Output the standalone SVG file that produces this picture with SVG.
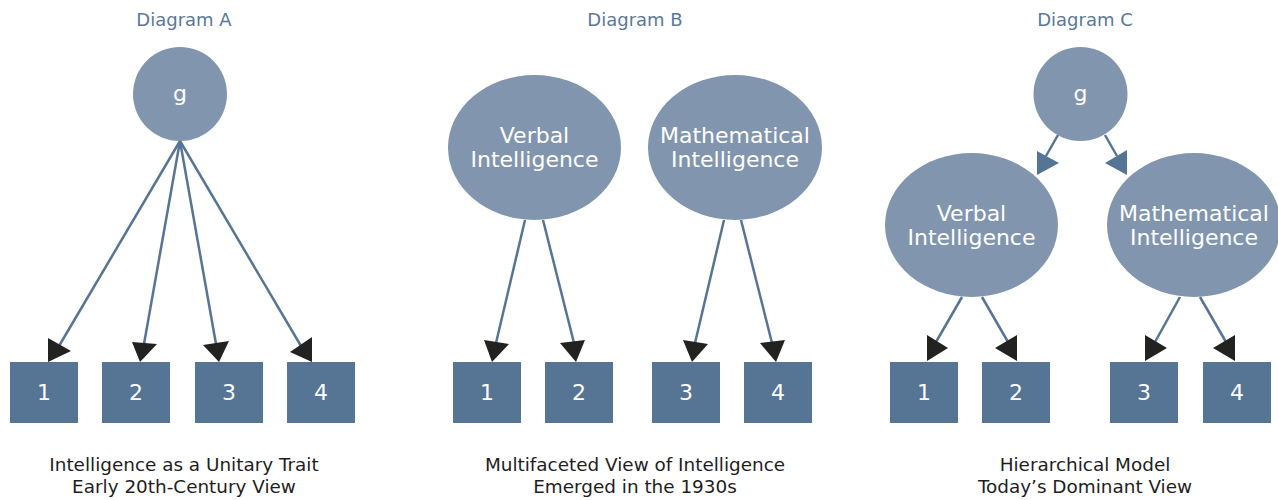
<svg xmlns="http://www.w3.org/2000/svg" width="1278" height="500" viewBox="0 0 1278 500">
<style>
.title{font-family:"DejaVu Sans",sans-serif;font-size:18px;fill:#5a7898;text-anchor:middle}
.cap{font-family:"DejaVu Sans",sans-serif;font-size:18.4px;fill:#1e1e1e;text-anchor:middle}
.nl{font-family:"DejaVu Sans",sans-serif;font-size:22px;fill:#ffffff;text-anchor:middle}
.oval{fill:#8196ae}
.box{fill:#567595}
.ln{stroke:#567595;stroke-width:2.5;fill:none}
.ah{fill:#222220}
.ahb{fill:#567595}
</style>
<rect width="1278" height="500" fill="#ffffff"/>
<text class="title" x="184" y="26">Diagram A</text>
<text class="title" x="635" y="26">Diagram B</text>
<text class="title" x="1085" y="26">Diagram C</text>

<g id="connectors">
  <line class="ln" x1="180" y1="141" x2="59" y2="346"/>
  <line class="ln" x1="180" y1="141" x2="144" y2="344"/>
  <line class="ln" x1="180" y1="141" x2="216" y2="344"/>
  <line class="ln" x1="180" y1="141" x2="301" y2="346"/>
  <polygon class="ah" points="48,338 48,362 71,351"/>
  <polygon class="ah" points="132,342 157,344 140,362"/>
  <polygon class="ah" points="203,345 229,341 219,362"/>
  <polygon class="ah" points="312,337 312,362 290,352"/>

  <line class="ln" x1="525" y1="220" x2="496" y2="343"/>
  <line class="ln" x1="543" y1="220" x2="574" y2="343"/>
  <line class="ln" x1="724" y1="220" x2="695" y2="343"/>
  <line class="ln" x1="741" y1="220" x2="772" y2="343"/>
  <polygon class="ah" points="484,340 509,344 492,362"/>
  <polygon class="ah" points="560,343 585,340 576,362"/>
  <polygon class="ah" points="683,340 708,344 692,362"/>
  <polygon class="ah" points="760,343 785,340 776,362"/>

  <line class="ln" x1="1058" y1="135" x2="1046" y2="156"/>
  <line class="ln" x1="1105" y1="135" x2="1117" y2="156"/>
  <polygon class="ahb" points="1037,151 1059,163 1037,175"/>
  <polygon class="ahb" points="1127,150 1127,175 1105,163"/>

  <line class="ln" x1="962" y1="297" x2="936" y2="342"/>
  <line class="ln" x1="982" y1="297" x2="1008" y2="342"/>
  <line class="ln" x1="1180" y1="297" x2="1155" y2="342"/>
  <line class="ln" x1="1200" y1="297" x2="1226" y2="342"/>
  <polygon class="ah" points="927,335 948,348 927,361"/>
  <polygon class="ah" points="1017,335 1017,361 995,348"/>
  <polygon class="ah" points="1145,335 1167,348 1145,361"/>
  <polygon class="ah" points="1235,335 1235,361 1213,348"/>
</g>

<g id="A-g"><circle class="oval" cx="180" cy="94" r="47"/><text class="nl" x="180" y="101">g</text></g>
<g id="A-1"><rect class="box" x="10" y="362" width="68" height="61"/><text class="nl" x="44" y="400">1</text></g>
<g id="A-2"><rect class="box" x="102" y="362" width="68" height="61"/><text class="nl" x="136" y="400">2</text></g>
<g id="A-3"><rect class="box" x="195" y="362" width="68" height="61"/><text class="nl" x="229" y="400">3</text></g>
<g id="A-4"><rect class="box" x="287" y="362" width="68" height="61"/><text class="nl" x="321" y="400">4</text></g>

<g id="B-verbal"><ellipse class="oval" cx="534.5" cy="147.5" rx="86.5" ry="72.5"/><text class="nl" x="534.5" y="143">Verbal</text><text class="nl" x="534.5" y="167">Intelligence</text></g>
<g id="B-math"><ellipse class="oval" cx="735" cy="147.5" rx="87" ry="72.5"/><text class="nl" x="735" y="143">Mathematical</text><text class="nl" x="735" y="167">Intelligence</text></g>
<g id="B-1"><rect class="box" x="453" y="362" width="68" height="61"/><text class="nl" x="487" y="400">1</text></g>
<g id="B-2"><rect class="box" x="545" y="362" width="68" height="61"/><text class="nl" x="579" y="400">2</text></g>
<g id="B-3"><rect class="box" x="652" y="362" width="68" height="61"/><text class="nl" x="686" y="400">3</text></g>
<g id="B-4"><rect class="box" x="744" y="362" width="68" height="61"/><text class="nl" x="778" y="400">4</text></g>

<g id="C-g"><circle class="oval" cx="1080.5" cy="94" r="47"/><text class="nl" x="1080.5" y="101">g</text></g>
<g id="C-verbal"><ellipse class="oval" cx="971.5" cy="225" rx="86.5" ry="72"/><text class="nl" x="971.5" y="221">Verbal</text><text class="nl" x="971.5" y="245">Intelligence</text></g>
<g id="C-math"><ellipse class="oval" cx="1194" cy="225" rx="87" ry="72"/><text class="nl" x="1194" y="221">Mathematical</text><text class="nl" x="1194" y="245">Intelligence</text></g>
<g id="C-1"><rect class="box" x="890" y="362" width="68" height="61"/><text class="nl" x="924" y="400">1</text></g>
<g id="C-2"><rect class="box" x="982" y="362" width="68" height="61"/><text class="nl" x="1016" y="400">2</text></g>
<g id="C-3"><rect class="box" x="1110" y="362" width="68" height="61"/><text class="nl" x="1144" y="400">3</text></g>
<g id="C-4"><rect class="box" x="1203" y="362" width="68" height="61"/><text class="nl" x="1237" y="400">4</text></g>

<text class="cap" x="184" y="471">Intelligence as a Unitary Trait</text>
<text class="cap" x="184" y="493">Early 20th-Century View</text>
<text class="cap" x="635" y="471">Multifaceted View of Intelligence</text>
<text class="cap" x="635" y="493">Emerged in the 1930s</text>
<text class="cap" x="1085" y="471">Hierarchical Model</text>
<text class="cap" x="1085" y="493">Today’s Dominant View</text>
</svg>
